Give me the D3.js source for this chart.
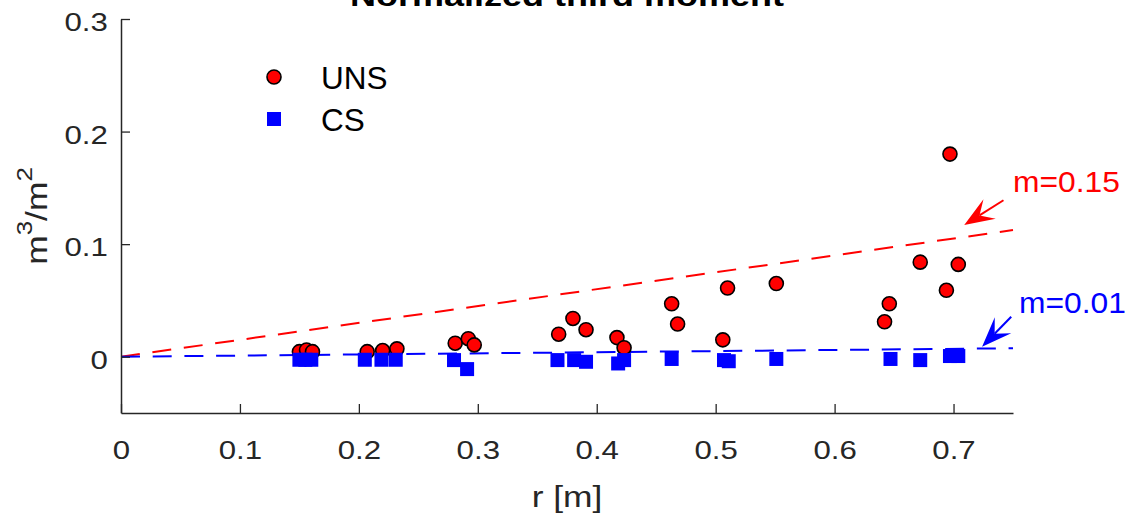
<!DOCTYPE html>
<html>
<head>
<meta charset="utf-8">
<script src="https://cdn.jsdelivr.net/npm/d3@7"></script>
<style>
  html, body { margin: 0; padding: 0; background: #fff; }
  svg { display: block; font-family: "Liberation Sans", Arial, sans-serif; }
</style>
</head>
<body>
<svg id="chart" width="1125" height="514"></svg>
<script>
// ---- data ----
const rUNS = [0.150, 0.156, 0.161, 0.207, 0.220, 0.232, 0.281, 0.292, 0.297, 0.368, 0.380, 0.391, 0.417, 0.423, 0.463, 0.468, 0.506, 0.510, 0.551, 0.642, 0.646, 0.672, 0.694, 0.697, 0.704];
const vUNS = [0.0045, 0.006, 0.0045, 0.0045, 0.0055, 0.007, 0.012, 0.016, 0.0105, 0.020, 0.034, 0.024, 0.017, 0.008, 0.047, 0.029, 0.015, 0.061, 0.065, 0.031, 0.047, 0.084, 0.059, 0.180, 0.082];
const rCS = [0.150, 0.155, 0.160, 0.205, 0.219, 0.231, 0.280, 0.291, 0.367, 0.381, 0.391, 0.418, 0.423, 0.463, 0.507, 0.511, 0.551, 0.647, 0.672, 0.697, 0.704];
const vCS = [-0.0027, -0.0027, -0.0027, -0.0027, -0.0027, -0.0027, -0.003, -0.011, -0.003, -0.003, -0.0045, -0.006, -0.003, -0.002, -0.003, -0.004, -0.002, -0.002, -0.003, 0.0006, 0.0006];
const slopes = [0.15, 0.01];
const slopeColors = ["#ff0000", "#0000ff"];
const slopeLabels = ["m=0.15", "m=0.01"];
// annotation arrows in data units: [tipR, tipV, tailR, tailV], label anchor [r, v]
const arrowTips = [[0.709, 0.117], [0.724, 0.0089]];
const arrowTails = [[0.742, 0.139], [0.7485, 0.0355]];
const labelPos = [[0.750, 0.146], [0.755, 0.039]];
const xTicks = [0, 0.1, 0.2, 0.3, 0.4, 0.5, 0.6, 0.7];
const yTicks = [0, 0.1, 0.2, 0.3];
const xDomain = [0, 0.75];
const yDomain = [-0.05, 0.3];

// ---- layout ----
const svg = d3.select("#chart");
const L = 121, T = 19, W = 892, H = 394;
const x = d3.scaleLinear().domain(xDomain).range([L, L + W]);
const y = d3.scaleLinear().domain(yDomain).range([T + H, T]);
const axisColor = "#262626";

// reference lines
slopes.forEach((m, i) => {
  svg.append("line")
    .attr("x1", x(0)).attr("y1", y(0))
    .attr("x2", x(xDomain[1])).attr("y2", y(m * xDomain[1]))
    .attr("stroke", slopeColors[i]).attr("stroke-width", 2)
    .attr("stroke-dasharray", "19,12.7");
});

// UNS circles
svg.append("g").selectAll("circle").data(rUNS).join("circle")
  .attr("cx", d => x(d)).attr("cy", (d, i) => y(vUNS[i]))
  .attr("r", 7).attr("fill", "#ff0000").attr("stroke", "#000").attr("stroke-width", 1.6);

// CS squares
const sq = 14;
svg.append("g").selectAll("rect").data(rCS).join("rect")
  .attr("x", d => x(d) - sq / 2).attr("y", (d, i) => y(vCS[i]) - sq / 2)
  .attr("width", sq).attr("height", sq).attr("fill", "#0000ff");

// axes
const xAxis = d3.axisBottom(x).tickValues(xTicks).tickFormat(d3.format("")).tickSizeInner(-9).tickSizeOuter(0).tickPadding(28);
const gx = svg.append("g").attr("transform", `translate(0,${T + H})`).call(xAxis);
const yAxis = d3.axisLeft(y).tickValues(yTicks).tickFormat(d3.format("")).tickSizeInner(-9).tickSizeOuter(0).tickPadding(11);
const gy = svg.append("g").attr("transform", `translate(${L},0)`).call(yAxis);
[gx, gy].forEach(g => {
  g.select(".domain").attr("stroke", axisColor).attr("stroke-width", 1.5);
  g.selectAll(".tick line").attr("stroke", axisColor).attr("stroke-width", 1.3);
  g.selectAll(".tick text").attr("fill", axisColor)
    .style("font-size", "26px").style("font-family", "'Liberation Sans', Arial, sans-serif");
});
gx.selectAll(".tick text").attr("transform", "scale(1.2,1)");
gy.selectAll(".tick text").attr("dy", "0.44em").attr("transform", "scale(1.2,1)");

// axis labels
svg.append("text")
  .attr("transform", `translate(${(L + L + W) / 2},507) scale(1.18,1)`)
  .attr("text-anchor", "middle").attr("fill", axisColor)
  .style("font-size", "30px").text("r [m]");

const yl = svg.append("text")
  .attr("transform", `translate(47,${T + H / 2}) rotate(-90) scale(1.18,1)`)
  .attr("text-anchor", "middle").attr("fill", axisColor)
  .style("font-size", "30px");
yl.append("tspan").text("m");
yl.append("tspan").attr("dy", -15).style("font-size", "22px").text("3");
yl.append("tspan").attr("dy", 15).text("/m");
yl.append("tspan").attr("dy", -15).style("font-size", "22px").text("2");

// title (partly cut off at top)
svg.append("text")
  .attr("transform", `translate(${(L + L + W) / 2},6) scale(1.2,1)`)
  .attr("text-anchor", "middle").attr("fill", "#000")
  .style("font-size", "30px").style("font-weight", "bold")
  .text("Normalized third moment");

// legend
const legend = svg.append("g");
legend.append("circle").attr("cx", 274).attr("cy", 77).attr("r", 7)
  .attr("fill", "#ff0000").attr("stroke", "#000").attr("stroke-width", 1.6);
legend.append("rect").attr("x", 274 - sq / 2).attr("y", 119 - sq / 2)
  .attr("width", sq).attr("height", sq).attr("fill", "#0000ff");
legend.append("text").attr("x", 321).attr("y", 89).style("font-size", "31.5px").attr("fill", "#000").text("UNS");
legend.append("text").attr("x", 321).attr("y", 131).style("font-size", "31.5px").attr("fill", "#000").text("CS");

// annotation arrows + labels
slopes.forEach((m, i) => {
  const tx = x(arrowTips[i][0]), ty = y(arrowTips[i][1]);
  const bx = x(arrowTails[i][0]), by = y(arrowTails[i][1]);
  const dx = bx - tx, dy = by - ty, len = Math.hypot(dx, dy);
  const ux = dx / len, uy = dy / len;   // toward tail
  const px = -uy, py = ux;              // perpendicular
  const hl = 30, hw = 11.5, notch = 18;
  const b1 = [tx + ux * hl + px * hw, ty + uy * hl + py * hw];
  const b2 = [tx + ux * hl - px * hw, ty + uy * hl - py * hw];
  const n = [tx + ux * notch, ty + uy * notch];
  svg.append("line")
    .attr("x1", n[0]).attr("y1", n[1]).attr("x2", bx).attr("y2", by)
    .attr("stroke", slopeColors[i]).attr("stroke-width", 2);
  svg.append("path")
    .attr("d", `M${tx},${ty}L${b1[0]},${b1[1]}L${n[0]},${n[1]}L${b2[0]},${b2[1]}Z`)
    .attr("fill", slopeColors[i]);
  svg.append("text")
    .attr("transform", `translate(${x(labelPos[i][0])},${y(labelPos[i][1])}) scale(1.06,1)`)
    .attr("fill", slopeColors[i]).style("font-size", "30px")
    .text(slopeLabels[i]);
});
</script>
</body>
</html>
